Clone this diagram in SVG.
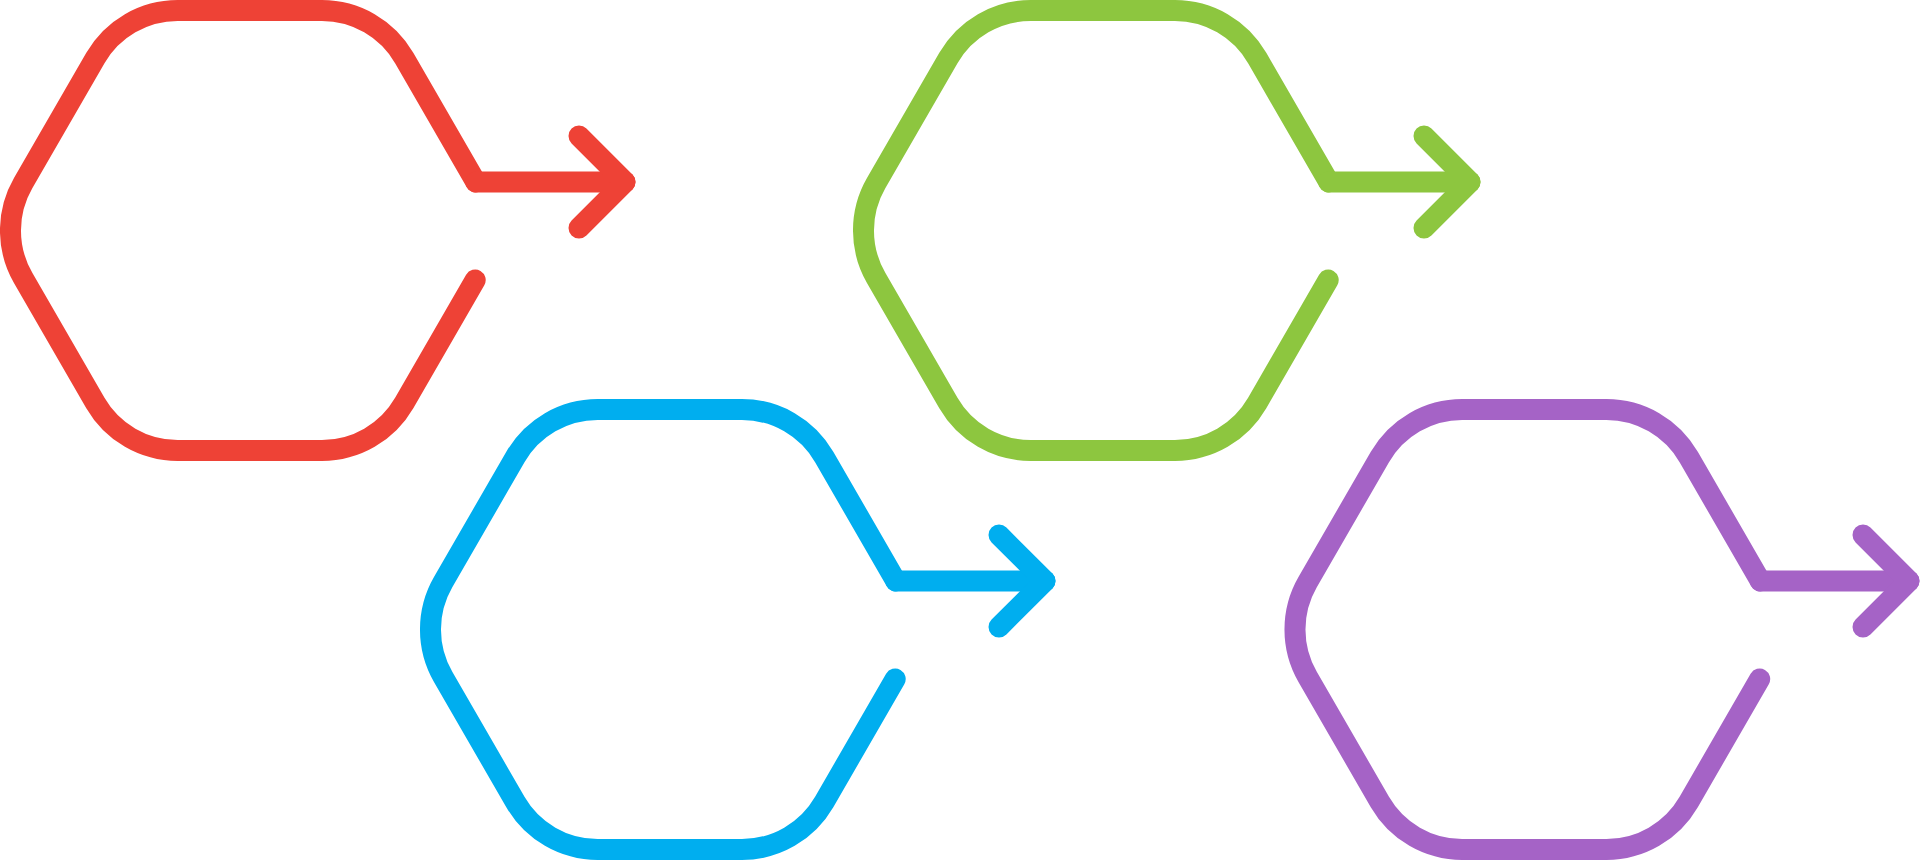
<svg xmlns="http://www.w3.org/2000/svg" width="1920" height="861" viewBox="0 0 1920 861">
  <style>
    .hex { fill: none; stroke-width: 21; stroke-linecap: round; stroke-linejoin: round; }
    .conn { fill: none; stroke-width: 21; stroke-linecap: round; stroke-linejoin: round; }
    .red { stroke: #EE4236; }
    .green { stroke: #8DC63F; }
    .blue { stroke: #00AEEF; }
    .purple { stroke: #A563C6; }
  </style>
  <defs>
    <path id="hexShape" d="M 475.8,182 L 404.2,58 A 95,95 0 0 0 321.95,10.5 L 177.65,10.5 A 95,95 0 0 0 95.4,58 L 23.2,183 A 95,95 0 0 0 23.2,278 L 95.4,403 A 95,95 0 0 0 177.65,450.5 L 321.95,450.5 A 95,95 0 0 0 404.2,403 L 475.2,280"/>
    <marker id="ahRed" markerUnits="userSpaceOnUse" orient="auto" viewBox="-70 -70 90 140" markerWidth="90" markerHeight="140" refX="0" refY="0">
      <path d="M -46,-46 L 0,0 L -46,46" fill="none" stroke="#EE4236" stroke-width="21" stroke-linecap="round" stroke-linejoin="round"/>
    </marker>
    <marker id="ahGreen" markerUnits="userSpaceOnUse" orient="auto" viewBox="-70 -70 90 140" markerWidth="90" markerHeight="140" refX="0" refY="0">
      <path d="M -46,-46 L 0,0 L -46,46" fill="none" stroke="#8DC63F" stroke-width="21" stroke-linecap="round" stroke-linejoin="round"/>
    </marker>
    <marker id="ahBlue" markerUnits="userSpaceOnUse" orient="auto" viewBox="-70 -70 90 140" markerWidth="90" markerHeight="140" refX="0" refY="0">
      <path d="M -46,-46 L 0,0 L -46,46" fill="none" stroke="#00AEEF" stroke-width="21" stroke-linecap="round" stroke-linejoin="round"/>
    </marker>
    <marker id="ahPurple" markerUnits="userSpaceOnUse" orient="auto" viewBox="-70 -70 90 140" markerWidth="90" markerHeight="140" refX="0" refY="0">
      <path d="M -46,-46 L 0,0 L -46,46" fill="none" stroke="#A563C6" stroke-width="21" stroke-linecap="round" stroke-linejoin="round"/>
    </marker>
  </defs>
  <rect width="1920" height="861" fill="#FFFFFF"/>

  <g id="node-red">
    <use href="#hexShape" class="hex red"/>
  </g>
  <g id="node-green">
    <use href="#hexShape" class="hex green" transform="translate(853,0)"/>
  </g>
  <g id="node-blue">
    <use href="#hexShape" class="hex blue" transform="translate(420,399)"/>
  </g>
  <g id="node-purple">
    <use href="#hexShape" class="hex purple" transform="translate(1284.5,399)"/>
  </g>

  <g id="connectors">
    <path class="conn red" d="M 475.8,182 L 625,182" marker-end="url(#ahRed)"/>
    <path class="conn green" d="M 1328.8,182 L 1470,182" marker-end="url(#ahGreen)"/>
    <path class="conn blue" d="M 895.8,581 L 1045,581" marker-end="url(#ahBlue)"/>
    <path class="conn purple" d="M 1760.3,581 L 1909,581" marker-end="url(#ahPurple)"/>
  </g>
</svg>
